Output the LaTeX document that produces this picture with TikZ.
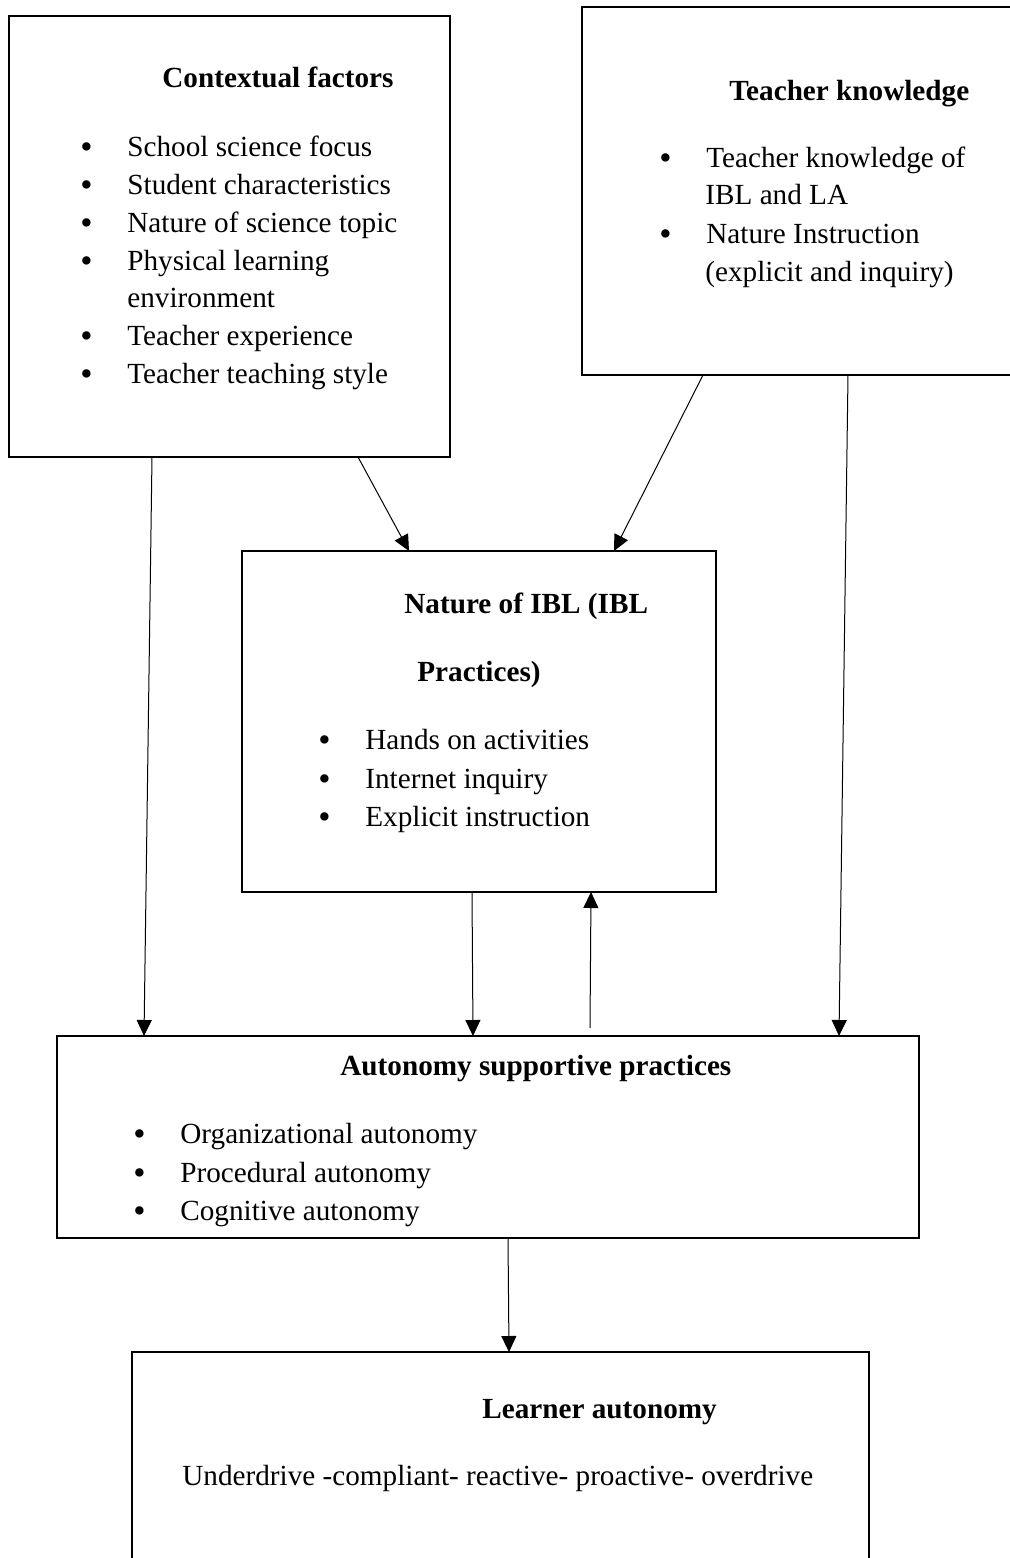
\documentclass[tikz,border=0pt]{standalone}
\usepackage{fontspec}
\setmainfont{Liberation Serif}
\usepackage{tikz}
\usetikzlibrary{arrows.meta, positioning, calc}
\tikzset{
  factorbox/.style={draw=black,line width=1.2pt,fill=none,inner sep=0pt,outer sep=0pt,anchor=north west},
  heading/.style={inner sep=0pt,anchor=base west,font=\fontsize{14.6pt}{19pt}\selectfont\bfseries},
  entry/.style={inner sep=0pt,anchor=base west,font=\fontsize{14.6pt}{19pt}\selectfont},
  link/.style={line width=0.5pt,black,-{Triangle[width=7.5pt,length=8pt]}},
}
\newcommand{\bitem}[1]{\makebox[23.5pt][l]{\raisebox{-1.4pt}[0pt][0pt]{\fontsize{17.5pt}{19pt}\selectfont\textbullet}}#1}

\begin{document}
\begin{tikzpicture}[x=0.5pt,y=-0.5pt]
    \useasboundingbox (0,0) rectangle (1010,1558);
    % boxes
    \node[factorbox,minimum width=220.5pt,minimum height=220.5pt] (ctx) at (9,16) {};
    \node[factorbox,minimum width=216pt,minimum height=184pt] (tk) at (582,7) {};
    \node[factorbox,minimum width=237pt,minimum height=170.5pt] (ibl) at (242,551) {};
    \node[factorbox,minimum width=431pt,minimum height=101pt] (asp) at (57,1036) {};
    \node[factorbox,minimum width=368.5pt,minimum height=105pt] (la) at (132,1352) {};
    % contextual factors
    \node[heading] (ctxhead) at (162,87) {Contextual factors};
    \node[entry] (ctx1) at (80,156) {\bitem{School science focus}};
    \node[entry] (ctx2) at (80,194) {\bitem{Student characteristics}};
    \node[entry] (ctx3) at (80,232) {\bitem{Nature of science topic}};
    \node[entry] (ctx4) at (80,270) {\bitem{Physical learning}};
    \node[entry] (ctx4b) at (127,307) {environment};
    \node[entry] (ctx5) at (80,345) {\bitem{Teacher experience}};
    \node[entry] (ctx6) at (80,383) {\bitem{Teacher teaching style}};
    % teacher knowledge
    \node[heading] (tkhead) at (729,100) {Teacher knowledge};
    \node[entry] (tk1) at (659,167) {\bitem{Teacher knowledge of}};
    \node[entry] (tk1b) at (705,204) {IBL and LA};
    \node[entry] (tk2) at (659,243) {\bitem{Nature Instruction}};
    \node[entry] (tk2b) at (705,281) {(explicit and inquiry)};
    % nature of IBL
    \node[heading] (iblhead) at (404,613) {Nature of IBL (IBL};
    \node[heading] (iblheadb) at (417,681) {Practices)};
    \node[entry] (ibl1) at (318,749) {\bitem{Hands on activities}};
    \node[entry] (ibl2) at (318,788) {\bitem{Internet inquiry}};
    \node[entry] (ibl3) at (318,826) {\bitem{Explicit instruction}};
    % autonomy supportive practices
    \node[heading] (asphead) at (340,1075) {Autonomy supportive practices};
    \node[entry] (asp1) at (133,1143) {\bitem{Organizational autonomy}};
    \node[entry] (asp2) at (133,1182) {\bitem{Procedural autonomy}};
    \node[entry] (asp3) at (133,1220) {\bitem{Cognitive autonomy}};
    % learner autonomy
    \node[heading] (lahead) at (482,1418) {Learner autonomy};
    \node[entry] (lascale) at (182,1485) {Underdrive -compliant- reactive- proactive- overdrive};
    % links
    \draw[link] ($(ctx.south west)+(143,0)$) -- ($(asp.north west)+(87,0)$);
    \draw[link] ($(ctx.south west)+(349,0)$) -- ($(ibl.north west)+(167,0)$);
    \draw[link] ($(tk.south west)+(121,0)$) -- ($(ibl.north west)+(372,0)$);
    \draw[link] ($(tk.south west)+(266,0)$) -- ($(asp.north west)+(782,0)$);
    \draw[link] ($(ibl.south west)+(230,0)$) -- ($(asp.north west)+(416,0)$);
    \draw[link] ($(asp.north west)+(533,-8)$) -- ($(ibl.south west)+(349,0)$);
    \draw[link] ($(asp.south west)+(451,0)$) -- ($(la.north west)+(377,0)$);
\end{tikzpicture}
\end{document}
